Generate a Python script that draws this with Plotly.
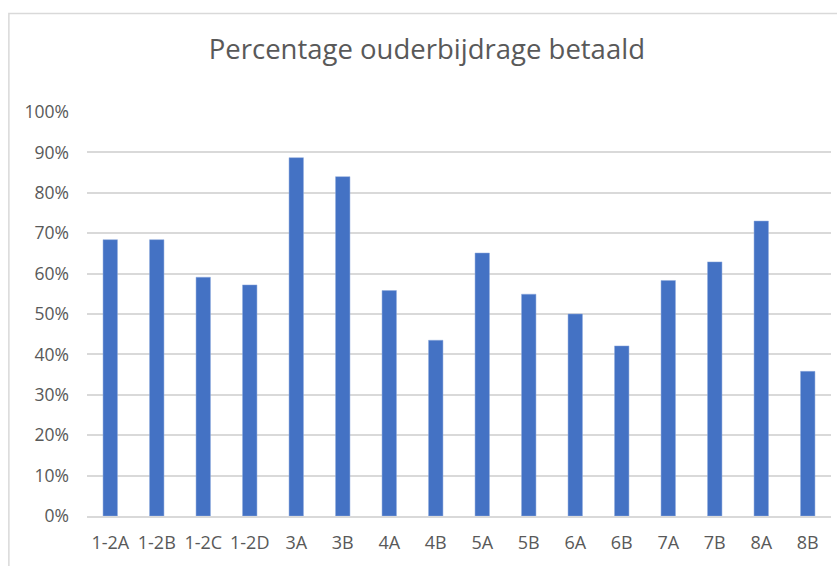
import plotly.graph_objects as go

categories = ["1-2A", "1-2B", "1-2C", "1-2D", "3A", "3B", "4A", "4B",
              "5A", "5B", "6A", "6B", "7A", "7B", "8A", "8B"]
values = [0.684, 0.684, 0.591, 0.572, 0.887, 0.840, 0.558, 0.435,
          0.651, 0.549, 0.500, 0.421, 0.583, 0.629, 0.730, 0.358]
y_ticks = [0, 0.1, 0.2, 0.3, 0.4, 0.5, 0.6, 0.7, 0.8, 0.9, 1.0]
y_tick_labels = ["0%", "10%", "20%", "30%", "40%", "50%", "60%", "70%", "80%", "90%", "100%"]
title_text = "Percentage ouderbijdrage betaald"

TEXT = "#595959"
GRID = "#D9D9D9"
FONT = "Open Sans"

fig = go.Figure(go.Bar(
    x=categories, y=values,
    marker=dict(color="#4472C4", line=dict(color="#8FAADC", width=0.5)),
    width=0.31,
))

fig.update_layout(
    width=837, height=566,
    paper_bgcolor="white", plot_bgcolor="white",
    margin=dict(l=87, r=6, t=112, b=50, autoexpand=False),
    title=dict(text=title_text, x=0.51, xanchor="center", y=0.912, yanchor="middle",
               font=dict(family=FONT, size=27.5, color=TEXT)),
    showlegend=False,
    bargap=0.69,
    font=dict(family=FONT, color=TEXT),
)
fig.update_xaxes(
    showgrid=False, showline=True, linecolor=GRID, linewidth=1.5,
    tickfont=dict(family=FONT, size=18, color=TEXT),
    ticks="", ticklabelstandoff=10, fixedrange=True, automargin=False,
)
fig.update_yaxes(
    range=[0, 1.0], tickvals=y_ticks, ticktext=y_tick_labels,
    showgrid=True, gridcolor=GRID, gridwidth=1.5, zeroline=False,
    tickfont=dict(family=FONT, size=17.5, color=TEXT),
    ticks="", ticklabelstandoff=17, fixedrange=True, automargin=False,
)
fig.add_shape(type="rect", xref="paper", yref="paper",
              x0=-0.105, x1=1.05, y0=-0.3, y1=1.244,
              line=dict(color=GRID, width=1.5), fillcolor="rgba(0,0,0,0)", layer="below")

fig.write_html("out.html", config={"displayModeBar": False},
               post_script="document.body.style.margin='0px';document.body.style.overflow='hidden';")
